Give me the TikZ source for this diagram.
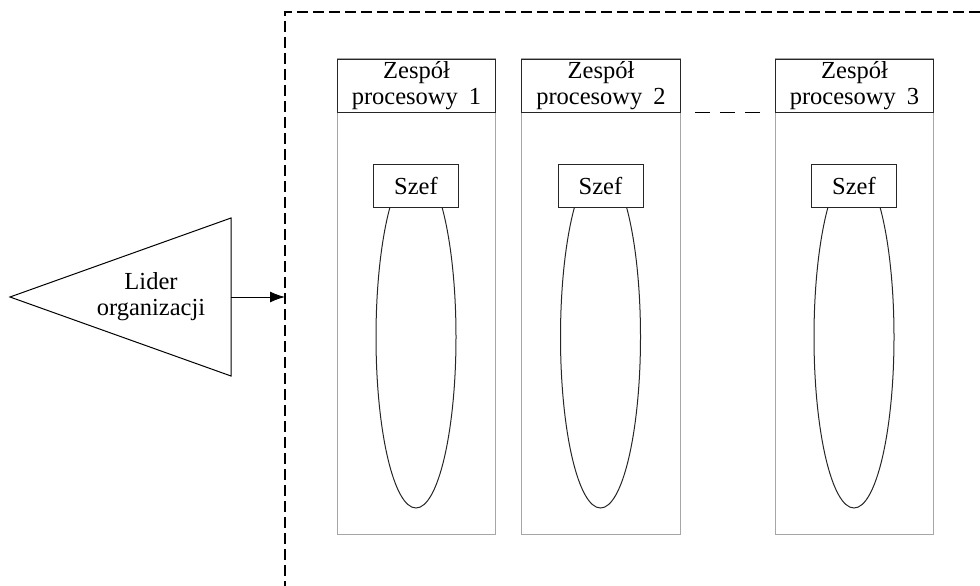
\documentclass[tikz,border=0pt]{standalone}
\usepackage{fontspec}
\setmainfont{Liberation Serif}
\usetikzlibrary{arrows.meta}
\begin{document}
\begin{tikzpicture}[x=1pt,y=-1pt,
  lbl/.style={font=\fontsize{24.5}{26}\selectfont, align=center, inner sep=0pt},
  colbox/.style={draw=black!35, line width=1pt},
  headbox/.style={draw=black!85, line width=1pt, fill=white},
  szefbox/.style={draw=black!85, line width=1pt, fill=white, minimum width=85pt, minimum height=43pt, inner sep=0pt, font=\fontsize{24.5}{26}\selectfont},
  oval/.style={draw=black!85, line width=1pt},
  frame/.style={line width=2.4pt, dash pattern=on 11pt off 5pt},
  conn/.style={line width=1pt, -{Latex[length=15pt,width=11pt]}}]
\useasboundingbox (0,0) rectangle (980,586);
% dashed frame
\coordinate (ftop) at (980,12);
\coordinate (fcorner) at (285,12);
\coordinate (fbot) at (285,590);
\draw[frame] (ftop) -- (fcorner) -- (fbot);
% leader triangle
\coordinate (tip) at (10,297);
\coordinate (tt) at (231,218);
\coordinate (tb) at (231,376);
\draw[line width=1pt] (tip) -- (tt) -- (tb) -- cycle;
\node[lbl] (lider) at (151,297) {Lider\\organizacji};
\coordinate (tr) at (231,297);
\coordinate (fl) at (285,297);
\draw[conn] (tr) -- (fl);
% columns
\foreach \i/\xa/\xb in {1/337/495, 2/521/680, 3/775/933}{
  \draw[colbox] (\xa,59) rectangle (\xb,534);
  \draw[oval] ({(\xa+\xb)/2},337) ellipse [x radius=40, y radius=171];
  \node[headbox, minimum width={\xb-\xa}, minimum height=53pt, inner sep=0pt, anchor=north west] (h\i) at (\xa,59) {};
  \node[lbl] (ht\i) at (h\i.center) {Zespół\\procesowy\hspace{0.45em}\i};
  \node[szefbox] (s\i) at ({(\xa+\xb)/2},185.5) {Szef};
}
% dots between column 2 and 3
\coordinate (da) at (695,112);
\coordinate (db) at (760,112);
\draw[line width=1pt, dash pattern=on 15pt off 10pt] (da) -- (db);
\end{tikzpicture}
\end{document}
